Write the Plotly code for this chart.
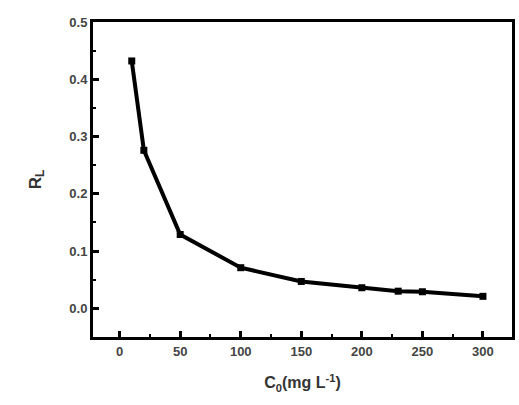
import plotly.graph_objects as go

c0 = [10, 20, 50, 100, 150, 200, 230, 250, 300]
rl = [0.432, 0.276, 0.129, 0.071, 0.047, 0.036, 0.030, 0.029, 0.021]

x_ticks = [0, 50, 100, 150, 200, 250, 300]
y_ticks = [0.0, 0.1, 0.2, 0.3, 0.4, 0.5]

fig = go.Figure(go.Scatter(
    x=c0, y=rl, mode="lines+markers",
    line=dict(color="black", width=4),
    marker=dict(symbol="square", size=7, color="black"),
))

fam = "Liberation Sans, Arial, sans-serif"
fig.update_layout(
    width=519, height=405,
    margin=dict(l=93, r=4, t=22, b=68),
    plot_bgcolor="white", paper_bgcolor="white",
    showlegend=False,
    font=dict(family=fam, size=12, color="#333"),
)
fig.update_xaxes(
    range=[-22, 324], tickvals=x_ticks, ticktext=["%d" % v for v in x_ticks],
    ticks="inside", ticklen=6, tickwidth=3, tickcolor="black",
    minor=dict(dtick=25, tick0=0, ticks="inside", ticklen=3, tickwidth=2, tickcolor="black"),
    showline=True, linecolor="black", linewidth=3, mirror=True, showgrid=False, zeroline=False,
    tickfont=dict(family=fam, size=13, color="#444", weight="bold"),
    title=dict(text="C<sub>0</sub>(mg L<sup>-1</sup>)", font=dict(family=fam, size=16, color="#333", weight="bold"), standoff=20),
)
fig.update_yaxes(
    range=[-0.05, 0.5], tickvals=y_ticks, ticktext=["%.1f" % v for v in y_ticks],
    ticks="inside", ticklen=6, tickwidth=3, tickcolor="black",
    minor=dict(dtick=0.05, tick0=0, ticks="inside", ticklen=3, tickwidth=2, tickcolor="black"),
    showline=True, linecolor="black", linewidth=3, mirror=True, showgrid=False, zeroline=False,
    tickfont=dict(family=fam, size=13, color="#444", weight="bold"),
    title=dict(text="R<sub>L</sub>", font=dict(family=fam, size=17, color="#333", weight="bold"), standoff=24),
)

fig.write_html("out.html", config={"displayModeBar": False},
               post_script="document.body.style.margin='0';")
